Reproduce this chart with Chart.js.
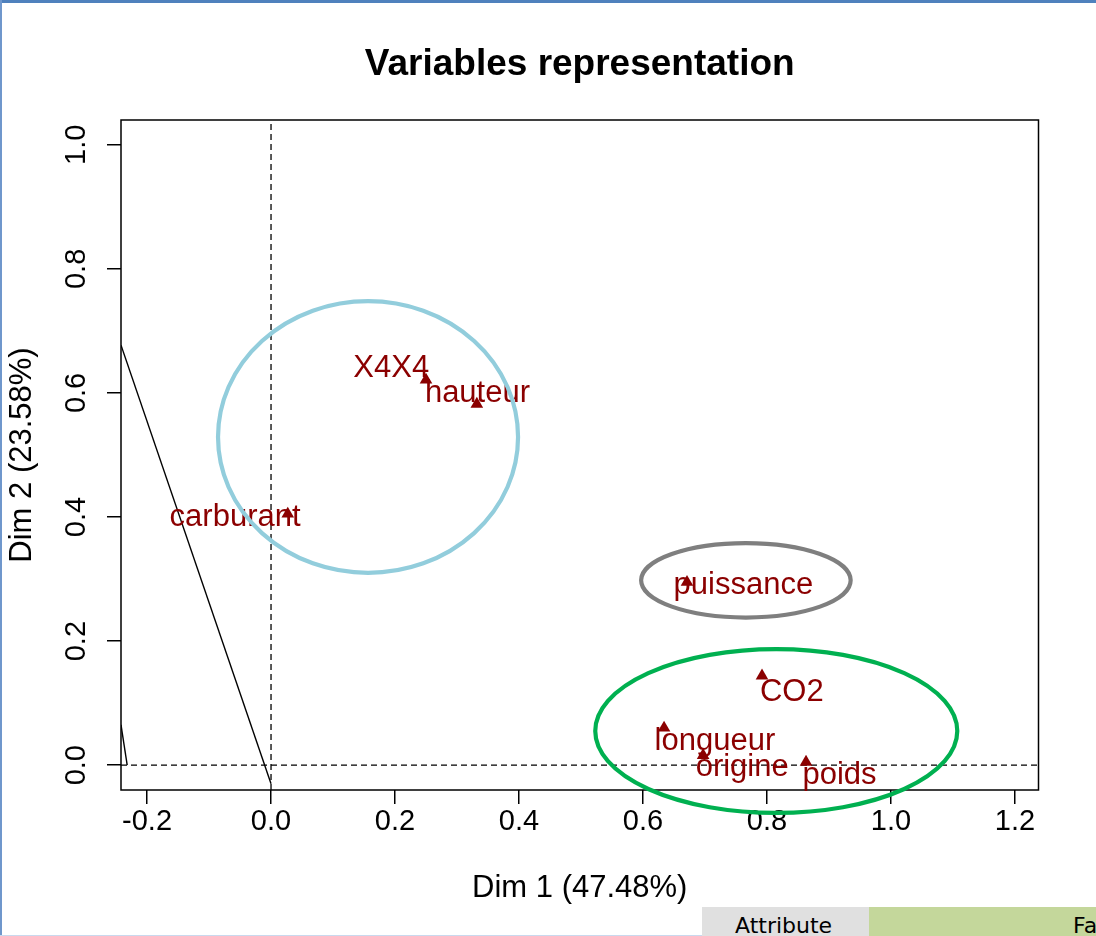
<!DOCTYPE html>
<html>
<head>
<meta charset="utf-8">
<script src="https://cdn.jsdelivr.net/npm/chart.js@4.4.1/dist/chart.umd.min.js"></script>
<style>
    body { margin: 0; background: #fff; }
    #wrap { position: relative; width: 1096px; height: 936px; overflow: hidden; background: #fff; }
    #pcaChart { position: absolute; left: 0; top: 0; }
    .edge { position: absolute; }
    .cell { position: absolute; top: 907px; height: 29px; overflow: hidden; white-space: nowrap;
            font-family: "DejaVu Sans", sans-serif; font-size: 22px; color: #000; line-height: 29px; }
    .cell span { position: absolute; top: 4px; }
</style>
</head>
<body>
<div id="wrap">
    <canvas id="pcaChart" width="1096" height="936"></canvas>
    <div class="edge" style="left:0;top:0;width:1096px;height:3px;background:#4F81BD"></div>
    <div class="edge" style="left:0;top:0;width:2px;height:936px;background:#6F97CC"></div>
    <div class="edge" style="left:0;top:935px;width:702px;height:1px;background:#C9D9EE"></div>
    <div class="cell" style="left:702px;width:167px;background:#E0E0E0"><span style="left:33px">Attribute</span></div>
    <div class="cell" style="left:869px;width:227px;background:#C4D79B"><span style="left:204px">Fa</span></div>
</div>
<script>
// variable coordinates on the first two dimensions
let variables = ['X4X4', 'hauteur', 'carburant', 'puissance', 'CO2', 'longueur', 'origine', 'poids'];
let dim1 = [0.250, 0.332, 0.027, 0.671, 0.792, 0.634, 0.697, 0.863];
let dim2 = [0.621, 0.582, 0.405, 0.295, 0.144, 0.060, 0.016, 0.005];

// where the labels sit (same units)
let labelDim1 = [0.194, 0.333, -0.058, 0.762, 0.840, 0.716, 0.760, 0.917];
let labelDim2 = [0.639, 0.600, 0.400, 0.290, 0.118, 0.039, -0.003, -0.016];

// the two solid segments on the left
let segmentA = [[-0.242, 0.677], [0.0, -0.030]];
let segmentB = [[-0.242, 0.065], [-0.232, 0.0]];

// axes
let xLimits = [-0.242, 1.238];
let yLimits = [-0.040, 1.040];
let xTicks = [-0.2, 0.0, 0.2, 0.4, 0.6, 0.8, 1.0, 1.2];
let yTicks = [0.0, 0.2, 0.4, 0.6, 0.8, 1.0];

// hand drawn groups (centre / radii in plot units)
let groupCx = [0.1565, 0.766, 0.815];
let groupCy = [0.529, 0.298, 0.055];
let groupRx = [0.242, 0.169, 0.292];
let groupRy = [0.219, 0.060, 0.132];
let groupColors = ['#92CDDC', '#7F7F7F', '#00B050'];

const FONT = '"Liberation Sans", Arial, Helvetica, sans-serif';

let toPoints = function (pairs) {
    return pairs.map(p => ({ x: p[0], y: p[1] }));
};

let overlay = {
    id: 'overlay',
    afterDatasetsDraw(chart) {
        const ctx = chart.ctx;
        const xs = chart.scales.x, ys = chart.scales.y;
        const a = chart.chartArea;
        ctx.save();
        ctx.strokeStyle = '#000';
        ctx.lineWidth = 1.5;
        ctx.strokeRect(a.left, a.top, a.right - a.left, a.bottom - a.top);

        ctx.fillStyle = '#8B0000';
        ctx.font = '31px ' + FONT;
        ctx.textAlign = 'center';
        ctx.textBaseline = 'middle';
        variables.forEach((name, i) => {
            ctx.fillText(name, xs.getPixelForValue(labelDim1[i]), ys.getPixelForValue(labelDim2[i]));
        });
        ctx.restore();
    },
    afterDraw(chart) {
        const ctx = chart.ctx;
        const xs = chart.scales.x, ys = chart.scales.y;
        ctx.save();
        ctx.lineWidth = 4.2;
        groupCx.forEach((cx, i) => {
            const px = xs.getPixelForValue(cx), py = ys.getPixelForValue(groupCy[i]);
            const rx = Math.abs(xs.getPixelForValue(cx + groupRx[i]) - px);
            const ry = Math.abs(ys.getPixelForValue(groupCy[i] + groupRy[i]) - py);
            ctx.strokeStyle = groupColors[i];
            ctx.beginPath();
            ctx.ellipse(px, py, rx, ry, 0, 0, Math.PI * 2);
            ctx.stroke();
        });
        ctx.restore();
    }
};

let lineSet = function (points, dash) {
    return {
        type: 'line',
        data: points,
        borderColor: '#000',
        borderWidth: dash ? 1.3 : 1.4,
        borderDash: dash || [],
        pointRadius: 0,
        fill: false,
        tension: 0,
        clip: 0
    };
};

let chartDraw = function () {
    let painter = document.getElementById('pcaChart').getContext('2d');

    window.pcaChart = new Chart(painter, {
        type: 'scatter',
        data: {
            datasets: [
                {
                    data: dim1.map((x, i) => ({ x: x, y: dim2[i] })),
                    pointStyle: 'triangle',
                    pointRadius: 7.3,
                    backgroundColor: '#8B0000',
                    borderWidth: 0
                },
                lineSet(toPoints(segmentA)),
                lineSet(toPoints(segmentB)),
                lineSet([{ x: xLimits[0], y: 0 }, { x: xLimits[1], y: 0 }], [6, 4]),
                lineSet([{ x: 0, y: yLimits[0] }, { x: 0, y: yLimits[1] }], [6, 4])
            ]
        },
        options: {
            responsive: false,
            animation: false,
            events: [],
            layout: { padding: { left: 0, right: 57.5, top: 0, bottom: 0 } },
            plugins: {
                legend: { display: false },
                tooltip: { enabled: false },
                title: {
                    display: true,
                    fullSize: false,
                    text: 'Variables representation',
                    color: '#000',
                    font: { family: FONT, size: 37, weight: 'bold', lineHeight: 1.2 },
                    padding: { top: 43, bottom: 32.6 }
                }
            },
            scales: {
                x: {
                    type: 'linear',
                    min: xLimits[0],
                    max: xLimits[1],
                    afterBuildTicks: s => { s.ticks = xTicks.map(v => ({ value: v })); },
                    afterFit: s => { s.height = 146; },
                    ticks: {
                        callback: v => v.toFixed(1),
                        color: '#000',
                        font: { family: FONT, size: 29 },
                        padding: 1,
                        maxRotation: 0
                    },
                    grid: { drawOnChartArea: false, drawTicks: true, tickLength: 14, color: '#000', lineWidth: 1.5 },
                    border: { display: false },
                    title: {
                        display: true,
                        text: 'Dim 1 (47.48%)',
                        color: '#000',
                        font: { family: FONT, size: 31 },
                        padding: { top: 0, bottom: 29.4 }
                    }
                },
                y: {
                    type: 'linear',
                    min: yLimits[0],
                    max: yLimits[1],
                    afterBuildTicks: s => { s.ticks = yTicks.map(v => ({ value: v })); },
                    afterFit: s => { s.width = 121; },
                    ticks: {
                        callback: v => v.toFixed(1),
                        color: '#000',
                        font: { family: FONT, size: 29 },
                        padding: 10,
                        minRotation: 90,
                        maxRotation: 90,
                        crossAlign: 'center'
                    },
                    grid: { drawOnChartArea: false, drawTicks: true, tickLength: 14, color: '#000', lineWidth: 1.5 },
                    border: { display: false },
                    title: {
                        display: true,
                        text: 'Dim 2 (23.58%)',
                        color: '#000',
                        font: { family: FONT, size: 31 },
                        padding: { top: 3.5, bottom: 0 }
                    }
                }
            }
        },
        plugins: [overlay]
    });
};

window.onload = function () {
    chartDraw();
};
</script>
</body>
</html>
